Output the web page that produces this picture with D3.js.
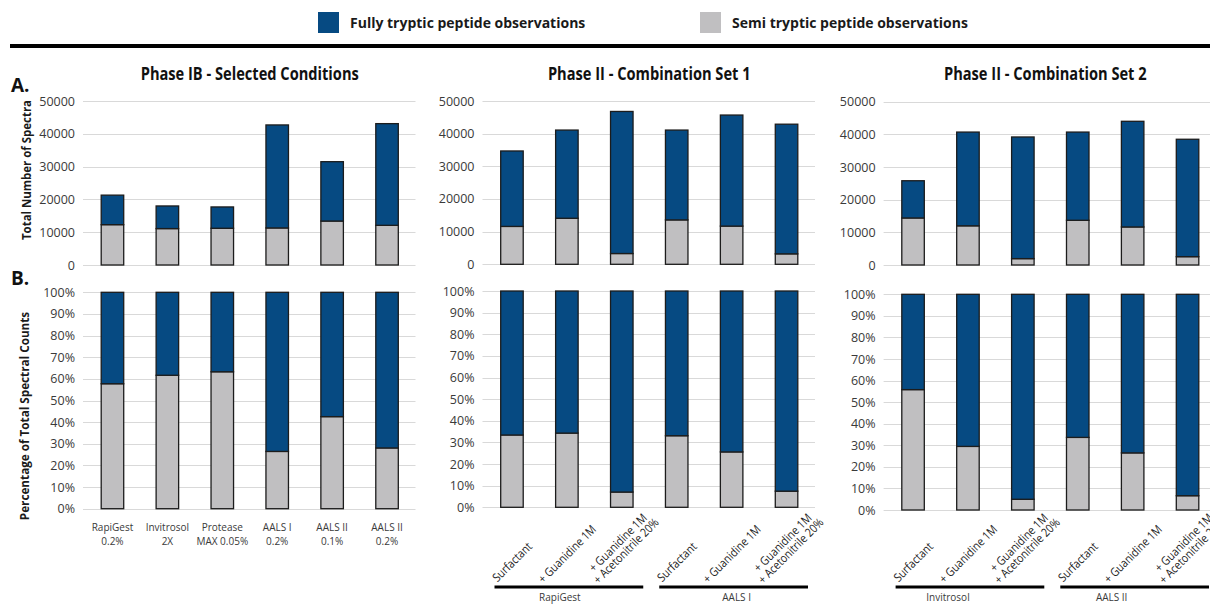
<!DOCTYPE html>
<html>
<head>
<meta charset="utf-8">
<script src="https://cdn.jsdelivr.net/npm/d3@7"></script>
<style>
  body { margin: 0; background: #fff; }
  svg { display: block; }
</style>
</head>
<body>
<svg id="chart" width="1210" height="606"></svg>
<script>
// ---------------- data ----------------
const seriesKeys = ["semi", "full"];
const legendNames = ["Fully tryptic peptide observations", "Semi tryptic peptide observations"];

// Phase IB - selected conditions (spectra counts)
const phaseIBLabels = [["RapiGest", "0.2%"], ["Invitrosol", "2X"], ["Protease", "MAX 0.05%"],
                       ["AALS I", "0.2%"], ["AALS II", "0.1%"], ["AALS II", "0.2%"]];
const phaseIBSemi = [12300, 11100, 11200, 11300, 13400, 12100];
const phaseIBFull = [9000, 6900, 6500, 31400, 18100, 31000];

// Phase II - combination conditions
const comboLabels = [["Surfactant"], ["+ Guanidine 1M"], ["+ Guanidine 1M", "+ Acetonitrile 20%"],
                     ["Surfactant"], ["+ Guanidine 1M"], ["+ Guanidine 1M", "+ Acetonitrile 20%"]];

const combo1Groups = ["RapiGest", "AALS I"];
const combo1Semi = [11600, 14100, 3300, 13600, 11700, 3200];
const combo1Full = [23100, 27000, 43500, 27500, 34000, 39700];

const combo2Groups = ["Invitrosol", "AALS II"];
const combo2Semi = [14400, 12000, 1950, 13700, 11650, 2550];
const combo2Full = [11400, 28700, 37250, 27000, 32350, 35950];

const countTicks = [0, 10000, 20000, 30000, 40000, 50000];
const percentTicks = [0, 0.1, 0.2, 0.3, 0.4, 0.5, 0.6, 0.7, 0.8, 0.9, 1];

// ---------------- styles ----------------
const colors = { full: "#064a82", semi: "#c0bfc1" };
const font = '"Open Sans", "Noto Sans", sans-serif';
const textColor = "#3a3a3a";

const svg = d3.select("#chart");

// squeeze a text horizontally to mimic a condensed face
function condense(sel, factor) {
  sel.each(function () {
    const w = this.getComputedTextLength();
    d3.select(this).attr("textLength", w * factor).attr("lengthAdjust", "spacingAndGlyphs");
  });
  return sel;
}

// ---------------- legend + rule ----------------
const legendItems = [
  { key: "full", name: legendNames[0], x: 318 },
  { key: "semi", name: legendNames[1], x: 700 }
];
const legend = svg.append("g");
legend.selectAll("rect").data(legendItems).join("rect")
  .attr("x", d => d.x).attr("y", 12).attr("width", 21).attr("height", 21)
  .attr("fill", d => colors[d.key]);
legend.selectAll("text").data(legendItems).join("text")
  .attr("x", d => d.x + 32).attr("y", 28)
  .attr("font-family", font).attr("font-weight", 700).attr("font-size", 14)
  .attr("fill", "#1a1a1a")
  .text(d => d.name);

svg.append("line").attr("x1", 10).attr("x2", 1210).attr("y1", 46).attr("y2", 46)
  .attr("stroke", "#000").attr("stroke-width", 4);

// Section letters
svg.append("text").attr("x", 11).attr("y", 92).text("A.")
  .attr("font-family", font).attr("font-weight", 700).attr("font-size", 19).attr("fill", "#111");
svg.append("text").attr("x", 11).attr("y", 285).text("B.")
  .attr("font-family", font).attr("font-weight", 700).attr("font-size", 19).attr("fill", "#111");

// Y axis titles
condense(svg.append("text").attr("transform", "translate(31,170) rotate(-90)")
  .attr("text-anchor", "middle").text("Total Number of Spectra")
  .attr("font-family", font).attr("font-weight", 700).attr("font-size", 13).attr("fill", "#1a1a1a"), 0.88);
condense(svg.append("text").attr("transform", "translate(29,416) rotate(-90)")
  .attr("text-anchor", "middle").text("Percentage of Total Spectral Counts")
  .attr("font-family", font).attr("font-weight", 700).attr("font-size", 13).attr("fill", "#1a1a1a"), 0.9);

// ---------------- panels ----------------
const panels = [
  { title: "Phase IB - Selected Conditions", labels: phaseIBLabels, semi: phaseIBSemi, full: phaseIBFull,
    groups: null, x: [85, 414.5], yA: [265, 101], yB: [508.7, 292.3], titleDx: 0 },
  { title: "Phase II - Combination Set 1", labels: comboLabels, semi: combo1Semi, full: combo1Full,
    groups: combo1Groups, groupDx: [-9, 3], x: [484.5, 814], yA: [264.3, 101], yB: [507.3, 291], titleDx: 0 },
  { title: "Phase II - Combination Set 2", labels: comboLabels, semi: combo2Semi, full: combo2Full,
    groups: combo2Groups, groupDx: [-22, -23], x: [885.6, 1215], yA: [265, 101.7], yB: [510, 294.3], titleDx: -5 }
];

function drawStacked(g, rows, x, y, stack, ticks, fmt, gridX) {
  // gridlines
  g.append("g").selectAll("line").data(ticks).join("line")
    .attr("x1", gridX[0]).attr("x2", gridX[1])
    .attr("y1", d => Math.round(y(d)) + 0.5).attr("y2", d => Math.round(y(d)) + 0.5)
    .attr("stroke", "#d9d9d9").attr("stroke-width", 1);

  // axis labels
  const axis = g.append("g").attr("transform", `translate(${x.range()[0]},0)`)
    .call(d3.axisLeft(y).tickValues(ticks).tickFormat(fmt).tickSize(0).tickPadding(10));
  axis.select(".domain").remove();
  axis.selectAll("text").attr("font-family", font).attr("font-size", 12.5).attr("fill", textColor);

  // stacked bars
  const layers = stack(rows);
  g.append("g").selectAll("g").data(layers).join("g")
    .attr("fill", d => colors[d.key])
    .selectAll("rect").data(d => d).join("rect")
    .attr("x", d => x(d.data.i))
    .attr("width", x.bandwidth())
    .attr("y", d => y(d[1]))
    .attr("height", d => y(d[0]) - y(d[1]))
    .attr("stroke", "#1c1c1c").attr("stroke-width", 1.3);
}

panels.forEach(p => {
  const rows = p.semi.map((s, i) => ({ i, semi: s, full: p.full[i] }));
  const x = d3.scaleBand().domain(d3.range(rows.length)).range(p.x)
    .paddingInner(0.59).paddingOuter(0.295);
  const gridX = [p.x[0] - 2, p.x[1] + 1];
  const g = svg.append("g");

  const yA = d3.scaleLinear().domain([0, 50000]).range(p.yA);
  drawStacked(g, rows, x, yA, d3.stack().keys(seriesKeys), countTicks, d3.format("d"), gridX);

  const yB = d3.scaleLinear().domain([0, 1]).range(p.yB);
  drawStacked(g, rows, x, yB, d3.stack().keys(seriesKeys).offset(d3.stackOffsetExpand),
    percentTicks, d3.format(".0%"), gridX);

  // panel title
  condense(g.append("text").attr("x", (p.x[0] + p.x[1]) / 2 + p.titleDx).attr("y", 80)
    .attr("text-anchor", "middle").text(p.title)
    .attr("font-family", font).attr("font-weight", 700).attr("font-size", 17).attr("fill", "#111"), 0.86);

  const cx = i => x(i) + x.bandwidth() / 2;

  if (!p.groups) {
    // straight two-line category labels
    const lab = g.append("g").selectAll("text").data(p.labels).join("text")
      .attr("text-anchor", "middle")
      .attr("font-family", font).attr("font-size", 10).attr("fill", textColor);
    lab.selectAll("tspan").data((d, i) => d.map(t => ({ t, i }))).join("tspan")
      .attr("x", d => cx(d.i)).attr("y", (d, j) => 531 + j * 14).text(d => d.t);
  } else {
    // rotated category labels, centred on each bar, resting on the group rule
    const lh = 11.5, bottom = 581, s = Math.SQRT1_2, squeeze = 0.86;
    p.labels.forEach((lines, i) => {
      const lg = g.append("g");
      const texts = lg.selectAll("text").data(lines).join("text")
        .attr("text-anchor", "middle").attr("dominant-baseline", "central")
        .attr("y", (d, j) => (j - (lines.length - 1) / 2) * lh)
        .attr("font-family", font).attr("font-size", 12).attr("fill", "#222")
        .text(d => d);
      condense(texts, squeeze);
      const wmax = d3.max(texts.nodes(), n => n.getComputedTextLength()) * squeeze;
      const extent = (wmax + lines.length * lh) * s;
      lg.attr("transform", `translate(${cx(i)},${bottom - extent / 2}) rotate(-45)`);
    });

    // group rules and names
    const per = rows.length / p.groups.length;
    p.groups.forEach((name, k) => {
      const first = k * per, last = first + per - 1;
      const x1 = x(first) - x.step() * x.paddingOuter() + 10;
      const x2 = x(last) + x.bandwidth() + x.step() * x.paddingOuter() - 6;
      g.append("line").attr("x1", x1).attr("x2", x2).attr("y1", 587).attr("y2", 587)
        .attr("stroke", "#000").attr("stroke-width", 3);
      g.append("text").attr("x", (x1 + x2) / 2 + p.groupDx[k]).attr("y", 601)
        .attr("text-anchor", "middle").text(name)
        .attr("font-family", font).attr("font-size", 10).attr("fill", textColor);
    });
  }
});
</script>
</body>
</html>
